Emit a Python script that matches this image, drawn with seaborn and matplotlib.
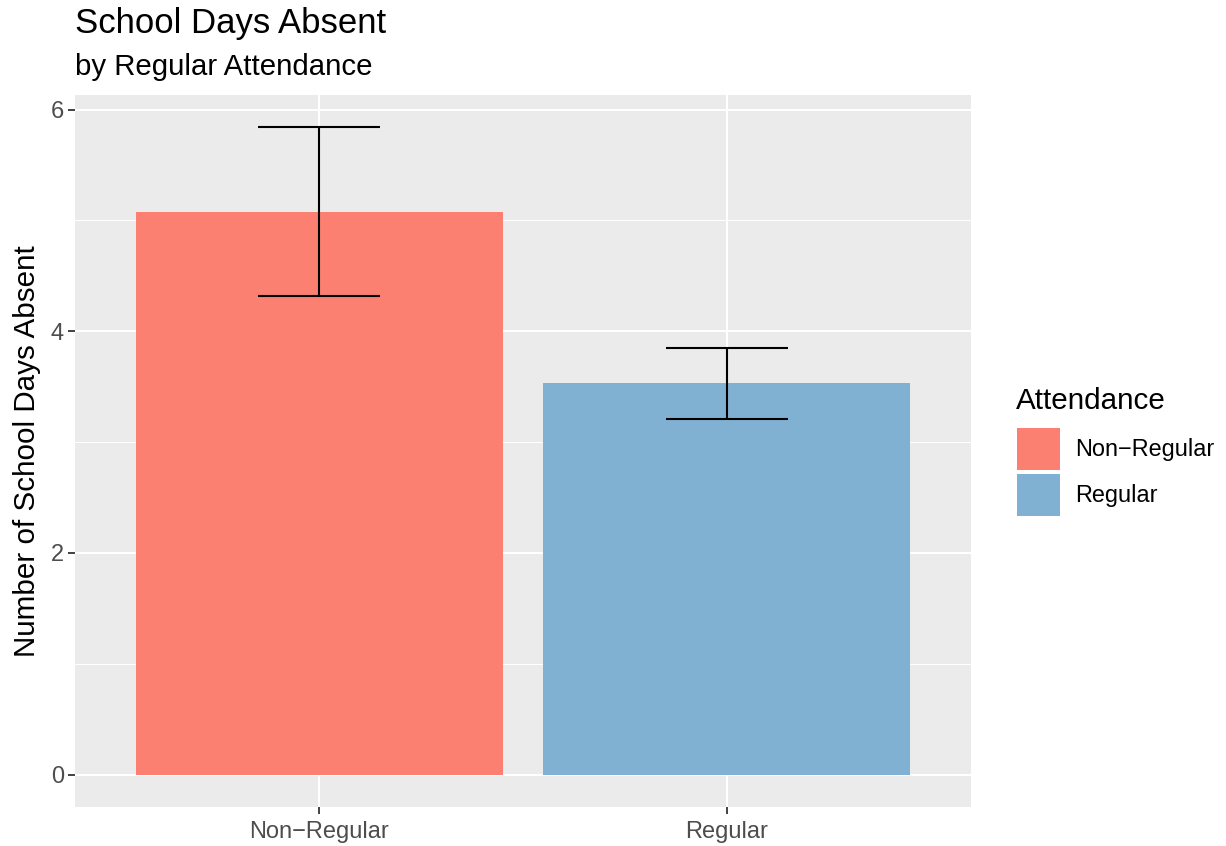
import matplotlib
matplotlib.use("Agg")
import matplotlib.pyplot as plt
import seaborn as sns
import pandas as pd
import numpy as np
from matplotlib.patches import Patch
from matplotlib.ticker import MultipleLocator

categories = ["Non\u2212Regular", "Regular"]
mean_absent = [5.08, 3.53]
ci_lower = [4.32, 3.21]
ci_upper = [5.84, 3.85]
colors = ["#FB8072", "#80B1D3"]
yticks = [0, 2, 4, 6]

df = pd.DataFrame({"Attendance": categories, "Absent": mean_absent,
                   "lo": ci_lower, "hi": ci_upper})

sns.set_theme(style="darkgrid")
plt.rcParams['font.family'] = ['Liberation Sans', 'DejaVu Sans']

W, H = 1226, 846
fig = plt.figure(figsize=(W / 100, H / 100), dpi=100)
ax = fig.add_axes([75 / W, 1 - 807 / H, (971 - 75) / W, (807 - 95) / H])
ax.set_facecolor("#EBEBEB")

sns.barplot(data=df, x="Attendance", y="Absent", hue="Attendance",
            palette=colors, width=0.9, ax=ax, legend=False, saturation=1,
            errorbar=None, zorder=3, linewidth=0, edgecolor="none")

x = np.arange(len(categories))
yerr = [np.array(mean_absent) - np.array(ci_lower),
        np.array(ci_upper) - np.array(mean_absent)]
ax.errorbar(x, mean_absent, yerr=yerr, fmt="none", ecolor="black",
            elinewidth=1.5, capsize=44, capthick=1.5, zorder=4)

ax.set_xlim(-0.6, 1.6)
lo = 0
hi = max(ci_upper)
pad = 0.05 * (hi - lo)
ax.set_ylim(lo - pad, hi + pad)
ax.set_yticks(yticks)
ax.yaxis.set_minor_locator(MultipleLocator(1))

ax.grid(True, which="major", color="white", linewidth=1.5)
ax.grid(True, which="minor", color="white", linewidth=0.75)
ax.set_axisbelow(True)
for s in ax.spines.values():
    s.set_visible(False)

ax.tick_params(axis="both", which="major", length=5, width=1.3, color="#333333",
               labelsize=17, labelcolor="#4D4D4D", bottom=True, left=True)
ax.tick_params(axis="x", which="major", pad=5)
ax.tick_params(axis="y", which="major", pad=3)
ax.tick_params(axis="both", which="minor", length=0)

ax.set_xlabel("")
ax.set_ylabel("Number of School Days Absent", fontsize=21.3, color="black", labelpad=7)

fig.text(75 / W, 1 - 33 / H, "School Days Absent", fontsize=25, ha="left",
         va="baseline", color="black")
fig.text(75 / W, 1 - 75 / H, "by Regular Attendance", fontsize=21.2, ha="left",
         va="baseline", color="black")

fig.text(1016 / W, 1 - 409 / H, "Attendance", fontsize=21.3, ha="left",
         va="baseline", color="black")

fs = 16.9
handles = [Patch(facecolor=c, edgecolor="none") for c in colors]
leg = fig.legend(handles, categories, loc="upper left",
                 bbox_to_anchor=(1005 / W, 1 - 416 / H), frameon=False,
                 fontsize=fs, handlelength=1.78 * 17.3 / fs,
                 handleheight=2.35 * 17.3 / fs, labelspacing=0.15 * 17.3 / fs,
                 handletextpad=0.65 * 17.3 / fs,
                 borderpad=0, alignment="left", labelcolor="black")

fig.savefig("out.png", dpi=100)
